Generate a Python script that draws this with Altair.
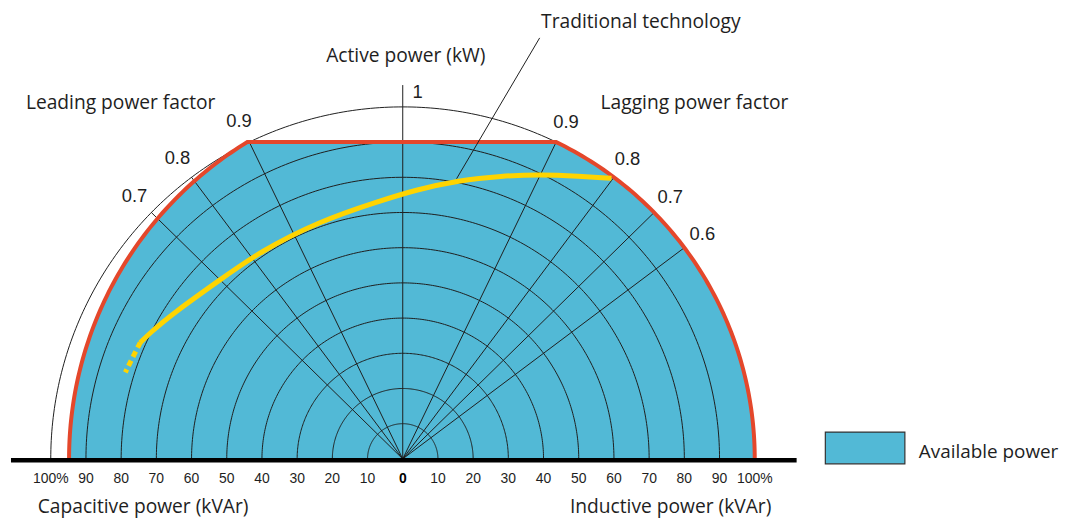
import numpy as np
import pandas as pd
import altair as alt

# ---------------- data ----------------
grid_radii = [0.1, 0.2, 0.3, 0.4, 0.5, 0.6, 0.7, 0.8, 0.9, 1.0]
leading_pf = [0.9, 0.8, 0.7]
lagging_pf = [0.9, 0.8, 0.7, 0.6]
active_cap = 0.9                 # flat top of the available-power region
left_arc_center = 0.105          # capacitive limit arc (centre on Q axis)
left_arc_radius = 1.053
right_limit_radius = 1.0         # inductive limit
axis_top = 1.062                 # active power axis length

tick_values = [-100, -90, -80, -70, -60, -50, -40, -30, -20, -10, 0,
               10, 20, 30, 40, 50, 60, 70, 80, 90, 100]
tick_labels = ["100%", "90", "80", "70", "60", "50", "40", "30", "20", "10", "0",
               "10", "20", "30", "40", "50", "60", "70", "80", "90", "100%"]

trad_q = [0.593, 0.500, 0.393, 0.280, 0.158, 0.040, -0.068, -0.237, -0.407, -0.520, -0.652, -0.718, -0.746]
trad_p = [0.797, 0.803, 0.808, 0.804, 0.791, 0.765, 0.732, 0.675, 0.588, 0.508, 0.414, 0.358, 0.330]
trad_dash_q = [-0.746, -0.766, -0.788]
trad_dash_p = [0.330, 0.291, 0.246]

# ---------------- layout ----------------
W, H = 1051, 504
CX, CY, RPX = 396, 452, 354
xs = alt.Scale(domain=[-CX / RPX, (W - CX) / RPX], nice=False, zero=False)
ys = alt.Scale(domain=[-(H - CY) / RPX, CY / RPX], nice=False, zero=False)

BLUE = "#52b9d6"
RED = "#e4472b"
YELLOW = "#ffd400"
INK = "#1e1e1e"
LABEL_FONT = "Open Sans"
NUM_FONT = "Liberation Sans"


def X(f):
    return alt.X(f, type="quantitative", scale=xs, axis=None)


def Y(f):
    return alt.Y(f, type="quantitative", scale=ys, axis=None)


# ---------------- available power region ----------------
c, R = left_arc_center, left_arc_radius
t1 = np.pi - np.arcsin(active_cap / R)
tl = np.linspace(np.pi, t1, 80)
left_q = c + R * np.cos(tl)
left_p = R * np.sin(tl)
q_corner_r = np.sqrt(right_limit_radius ** 2 - active_cap ** 2)
flat_q = np.linspace(left_q[-1], q_corner_r, 30)[1:-1]
flat_p = np.full_like(flat_q, active_cap)
tr = np.linspace(np.arcsin(active_cap / right_limit_radius), 0, 80)
right_q = right_limit_radius * np.cos(tr)
right_p = right_limit_radius * np.sin(tr)
bq = np.concatenate([left_q, flat_q, right_q])
bp = np.concatenate([left_p, flat_p, right_p])
bp = np.clip(bp, 0, active_cap)
df_bound = pd.DataFrame({"q": bq, "p": bp, "i": np.arange(len(bq)),
                         "kind": "Available power"})

area = alt.Chart(df_bound).mark_area(interpolate="linear").encode(
    x=X("q"), y=Y("p"), y2=alt.datum(0),
    color=alt.Color("kind:N",
                    scale=alt.Scale(domain=["Available power"], range=[BLUE]),
                    legend=alt.Legend(title=None, orient="none",
                                      legendX=820, legendY=404,
                                      symbolType="M-1,-0.5H1V0.3H-1Z",
                                      symbolSize=6400,
                                      symbolStrokeColor="#333333",
                                      symbolStrokeWidth=1.2,
                                      symbolOpacity=1,
                                      labelFont=LABEL_FONT, labelFontSize=19,
                                      labelColor=INK, labelOffset=13,
                                      padding=0)),
)

# ---------------- grid circles ----------------
ang = np.linspace(0, np.pi, 241)
rows = []
for r in grid_radii:
    for k, a in enumerate(ang):
        rows.append({"r": r, "k": k, "q": r * np.cos(a), "p": r * np.sin(a)})
df_circ = pd.DataFrame(rows)
circles = alt.Chart(df_circ).mark_line(stroke=INK, strokeWidth=1).encode(
    x=X("q"), y=Y("p"), detail="r:N", order="k:Q")

# ---------------- radial power-factor lines ----------------
rad = []
for pf in leading_pf:
    rad.append({"x0": 0, "y0": 0, "x1": -np.sqrt(1 - pf ** 2), "y1": pf})
for pf in lagging_pf:
    rad.append({"x0": 0, "y0": 0, "x1": np.sqrt(1 - pf ** 2), "y1": pf})
rad.append({"x0": 0, "y0": 0, "x1": 0, "y1": axis_top})
df_rad = pd.DataFrame(rad)
radials = alt.Chart(df_rad).mark_rule(stroke=INK, strokeWidth=1).encode(
    x=X("x0"), y=Y("y0"), x2="x1", y2="y1")

# ---------------- red limit line ----------------
limit = alt.Chart(df_bound).mark_line(stroke=RED, strokeWidth=4, strokeJoin="miter").encode(
    x=X("q"), y=Y("p"), order="i:Q")

# ---------------- traditional technology curve ----------------
df_trad = pd.DataFrame({"q": trad_q, "p": trad_p, "i": range(len(trad_q))})
trad = alt.Chart(df_trad).mark_line(stroke=YELLOW, strokeWidth=5,
                                    interpolate="basis").encode(
    x=X("q"), y=Y("p"), order="i:Q")
df_dash = pd.DataFrame({"q": trad_dash_q, "p": trad_dash_p, "i": range(len(trad_dash_q))})
trad_dash = alt.Chart(df_dash).mark_line(stroke=YELLOW, strokeWidth=5,
                                         strokeDash=[6, 4], interpolate="basis").encode(
    x=X("q"), y=Y("p"), order="i:Q")

df_lead = pd.DataFrame({"x0": [0.153], "y0": [0.796], "x1": [0.389], "y1": [1.196]})
leader = alt.Chart(df_lead).mark_rule(stroke=INK, strokeWidth=1).encode(
    x=X("x0"), y=Y("y0"), x2="x1", y2="y1")

# ---------------- baseline ----------------
df_base = pd.DataFrame({"x0": [-1.113], "x1": [1.119], "y0": [-0.004]})
base = alt.Chart(df_base).mark_rule(stroke="#000000", strokeWidth=4.5).encode(
    x=X("x0"), x2="x1", y=Y("y0"))

# ---------------- texts ----------------
df_lab = pd.DataFrame({
    "t": ["Active power (kW)", "Traditional technology", "Leading power factor",
          "Lagging power factor", "Capacitive power (kVAr)", "Inductive power (kVAr)"],
    "q": [-0.2175, 0.393, -1.0706, 0.562, -1.037, 0.475],
    "p": [1.144, 1.240, 1.011, 1.011, -0.136, -0.136],
})
labels = alt.Chart(df_lab).mark_text(align="left", baseline="middle", font=LABEL_FONT,
                                     fontSize=19.3, color=INK).encode(
    x=X("q"), y=Y("p"), text="t:N")

pf_rows = []
for pf in leading_pf:
    pf_rows.append({"t": f"{pf:.1f}", "q": -np.sqrt(1 - pf ** 2) * 1.067, "p": pf * 1.067})
for pf in lagging_pf:
    pf_rows.append({"t": f"{pf:.1f}", "q": np.sqrt(1 - pf ** 2) * 1.064, "p": pf * 1.064})
pf_rows.append({"t": "1", "q": 0.042, "p": 1.042})
df_pf = pd.DataFrame(pf_rows)
pf_text = alt.Chart(df_pf).mark_text(align="center", baseline="middle", font=NUM_FONT,
                                     fontSize=18.5, color=INK).encode(
    x=X("q"), y=Y("p"), text="t:N")

df_ticks = pd.DataFrame({"v": [v / 100 for v in tick_values], "t": tick_labels,
                         "p": -0.056})
tick_text = alt.Chart(df_ticks[df_ticks.t != "0"]).mark_text(
    align="center", baseline="middle", font=NUM_FONT, fontSize=14, color=INK).encode(
    x=X("v"), y=Y("p"), text="t:N")
zero_text = alt.Chart(df_ticks[df_ticks.t == "0"]).mark_text(
    align="center", baseline="middle", font=NUM_FONT, fontSize=14, fontWeight="bold",
    color="#000000").encode(x=X("v"), y=Y("p"), text="t:N")

chart = alt.layer(area, circles, radials, limit, trad, trad_dash, leader, base,
                  labels, pf_text, tick_text, zero_text).properties(
    width=W, height=H, padding=0, background="white"
).configure_view(stroke=None)

chart.save("out.html", embed_options={"renderer": "svg", "actions": False})
